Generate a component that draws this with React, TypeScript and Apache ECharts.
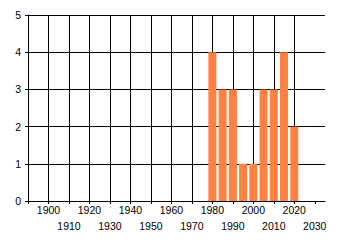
import React, { useEffect, useRef } from "react";
import * as echarts from "echarts";

const years = [1980, 1985, 1990, 1995, 2000, 2005, 2010, 2015, 2020];
const counts = [4, 3, 3, 1, 1, 3, 3, 4, 2];
const decadeTicks = [1890, 1900, 1910, 1920, 1930, 1940, 1950, 1960, 1970, 1980, 1990, 2000, 2010, 2020, 2030];
const topRowLabels = [1900, 1920, 1940, 1960, 1980, 2000, 2020];
const bottomRowLabels = [1910, 1930, 1950, 1970, 1990, 2010, 2030];
const yTicks = [0, 1, 2, 3, 4, 5];

export default function App() {
  const ref = useRef<HTMLDivElement>(null);
  useEffect(() => {
    if (!ref.current) return;
    const chart = echarts.init(ref.current, null, { renderer: "svg" });
    const font = { fontFamily: "Liberation Sans", fontSize: 10.5, color: "#000" };
    const plain = (v: number) => String(v);
    const xBase = { type: "value", min: 1890, max: 2035, interval: 10 };
    chart.setOption({
      animation: false,
      grid: { left: 28, top: 15, right: 15, bottom: 44, containLabel: false },
      xAxis: [
        {
          ...xBase,
          axisLine: { show: true, onZero: false, lineStyle: { color: "#000", width: 1 } },
          axisTick: { show: true, length: 3, lineStyle: { color: "#000" }, customValues: decadeTicks },
          splitLine: { show: true, showMaxLine: false, lineStyle: { color: "#000", width: 1 } },
          axisLabel: {
            ...font,
            margin: 3,
            showMinLabel: true,
            showMaxLabel: true,
            customValues: topRowLabels,
            formatter: plain,
          },
        },
        {
          ...xBase,
          position: "bottom",
          offset: 0,
          axisLine: { show: false },
          axisTick: { show: false },
          splitLine: { show: false },
          axisLabel: {
            ...font,
            margin: 19,
            showMinLabel: true,
            showMaxLabel: true,
            customValues: bottomRowLabels,
            formatter: plain,
          },
        },
      ],
      yAxis: {
        type: "value",
        min: 0,
        max: 5,
        interval: 1,
        axisLine: { show: true, lineStyle: { color: "#000", width: 1 } },
        axisTick: { show: true, length: 3, lineStyle: { color: "#000" } },
        splitLine: { show: true, lineStyle: { color: "#000", width: 1 } },
        axisLabel: { ...font, margin: 7, customValues: yTicks, showMinLabel: true, showMaxLabel: true, formatter: plain },
      },
      series: [
        {
          type: "bar",
          xAxisIndex: 0,
          data: years.map((y, i) => [y, counts[i]]),
          barWidth: 8,
          itemStyle: { color: "#FF8040" },
        },
      ],
    });
    return () => chart.dispose();
  }, []);
  return (
    <div
      ref={ref}
      style={{ position: "fixed", left: 0, top: 0, width: 340, height: 245, background: "#fff" }}
    />
  );
}
